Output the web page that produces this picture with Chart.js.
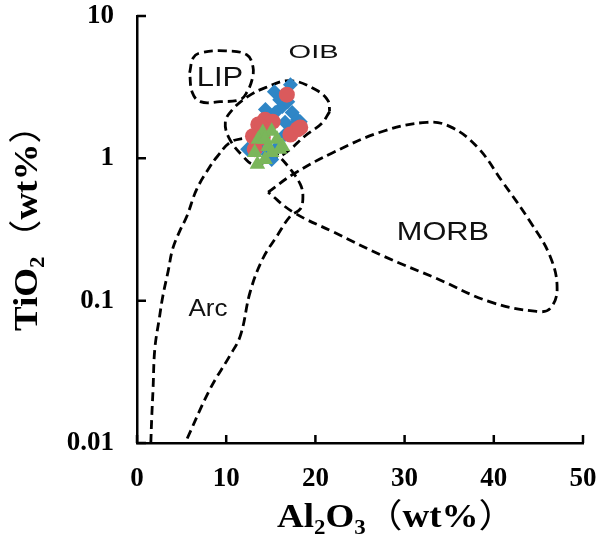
<!DOCTYPE html>
<html>
<head>
<meta charset="utf-8">
<script src="https://cdn.jsdelivr.net/npm/chart.js@4/dist/chart.umd.min.js"></script>
<style>
  html, body { margin: 0; padding: 0; background: #fff; }
  #wrap { width: 598px; height: 541px; }
</style>
</head>
<body>
<div id="wrap"><canvas id="c" width="598" height="541"></canvas></div>
<script>
// Axis ticks
const xTicks = [0, 10, 20, 30, 40, 50];
const yTicks = [0.01, 0.1, 1, 10];
const yTickLabels = ['0.01', '0.1', '1', '10'];

// Tectonic field outlines (Al2O3 wt%, TiO2 wt%)
const lipAl = [5.9, 6.3, 7.1, 9.9, 12.3, 13.0, 12.9, 12.3, 11.6, 9.3, 7.1, 6.2, 5.9];
const lipTi = [3.99, 5.08, 5.51, 5.69, 5.34, 4.40, 3.57, 2.90, 2.59, 2.50, 2.50, 2.90, 3.99];

const oibAl = [21.6, 20.7, 18.8, 17.2, 16.0, 14.4, 13.0, 11.9, 10.4, 9.9, 10.7, 12.4, 14.4, 17.2, 20.0, 21.4, 21.6];
const oibTi = [2.13, 1.76, 1.43, 1.16, 1.03, 0.94, 0.91, 1.03, 1.36, 1.79, 2.20, 2.71, 3.14, 3.51, 3.04, 2.55, 2.13];

const arcAl = [1.55, 1.65, 1.8, 2.0, 2.5, 2.9, 3.5, 4.0, 4.8, 5.6, 6.7, 8.2, 9.0, 10.4, 11.9, 13.2, 14.4, 15.7, 17.2, 18.3, 18.6, 18.3, 17.2, 15.7, 14.1, 12.7, 11.6, 10.4, 8.2, 5.4];
const arcTi = [0.01, 0.015, 0.024, 0.046, 0.075, 0.108, 0.162, 0.231, 0.309, 0.393, 0.607, 0.879, 1.03, 1.29, 1.38, 1.38, 1.29, 1.07, 0.838, 0.658, 0.542, 0.440, 0.393, 0.285, 0.197, 0.116, 0.057, 0.041, 0.024, 0.01];

const morbAl = [14.7, 17.5, 22.0, 27.6, 32.5, 35.1, 38.1, 41.0, 44.1, 46.3, 47.1, 46.3, 44.8, 39.6, 33.6, 27.6, 22.0, 17.5, 14.7];
const morbTi = [0.578, 0.773, 1.10, 1.55, 1.79, 1.67, 1.21, 0.680, 0.357, 0.206, 0.121, 0.088, 0.084, 0.098, 0.143, 0.206, 0.304, 0.419, 0.578];

// Sample groups
const setAAl = [15.4, 17.2, 16.3, 17.4, 15.5, 18.0, 16.6, 12.4, 15.1, 15.8, 17.5, 14.4, 13.5, 16.9, 14.0, 16.6, 18.3, 16.0, 13.6, 14.7];
const setATi = [2.94, 3.29, 2.31, 2.10, 2.10, 1.87, 1.79, 1.16, 0.98, 1.21, 1.67, 2.20, 1.25, 2.50, 1.36, 1.47, 1.81, 2.58, 1.16, 1.07];

const setBAl = [16.8, 14.35, 15.2, 13.6, 13.0, 18.0, 17.2, 13.2, 14.1, 14.0, 18.3];
const setBTi = [2.80, 1.87, 1.81, 1.73, 1.43, 1.60, 1.47, 1.16, 1.40, 1.65, 1.65];

const setCAl = [14.1, 15.1, 13.6, 15.7, 14.7, 16.3, 13.2, 15.1, 13.5, 14.35, 16.0, 14.35];
const setCTi = [1.52, 1.55, 1.36, 1.36, 1.21, 1.21, 1.10, 1.10, 0.91, 1.36, 1.16, 0.98];

// Field names
const fieldNames = ['LIP', 'OIB', 'MORB', 'Arc'];

const pts = (xs, ys) => xs.map((v, i) => ({ x: v, y: ys[i] }));

const outline = (xs, ys) => ({
  data: pts(xs, ys),
  showLine: true,
  borderColor: '#000',
  borderWidth: 2.8,
  borderDash: [9, 5],
  pointRadius: 0,
  pointHoverRadius: 0,
  tension: 0.4,
  fill: false,
  order: 3
});

const markers = (xs, ys, style, color, r, ord) => ({
  data: pts(xs, ys),
  showLine: false,
  pointStyle: style,
  pointRadius: r,
  pointHoverRadius: r,
  backgroundColor: color,
  borderColor: color,
  borderWidth: 0,
  order: ord
});

const serif = '"Liberation Serif", "Times New Roman", serif';

function fontOf(p, size) {
  if (p.sub) return 'bold ' + (size * 0.62) + 'px ' + serif;
  if (p.cjk) return size + 'px "Noto Sans CJK SC"';
  return 'bold ' + size + 'px ' + serif;
}

// draws text runs with subscripts, starting at (0,0) of the current frame, stretched by sx
function drawRich(ctx, parts, size, sx) {
  ctx.save();
  ctx.scale(sx, 1);
  ctx.textAlign = 'left';
  ctx.textBaseline = 'alphabetic';
  let xx = 0;
  parts.forEach(p => {
    ctx.font = fontOf(p, size);
    ctx.fillText(p.t, xx, p.sub ? size * 0.22 : 0);
    xx += ctx.measureText(p.t).width;
  });
  ctx.restore();
}

const xTitle = [{ t: 'Al' }, { t: '2', sub: true }, { t: 'O' }, { t: '3', sub: true }, { t: '（', cjk: true }, { t: 'wt%' }, { t: '）', cjk: true }];
const yTitle = [{ t: 'TiO' }, { t: '2', sub: true }, { t: '（', cjk: true }, { t: 'wt%' }, { t: '）', cjk: true }];

// label anchors in data units, plus font size and stretched ink width
const fieldLabelStyle = {
  LIP:  { x: 9.3,  y: 3.74,   size: 27, width: 43 },
  OIB:  { x: 19.8, y: 5.6,    size: 18, width: 50 },
  MORB: { x: 34.3, y: 0.309,  size: 25, width: 89 },
  Arc:  { x: 7.96, y: 0.0893, size: 24, width: 39 }
};

const overlay = {
  id: 'overlay',
  afterDraw(chart) {
    const { ctx, chartArea: a, scales: { x, y } } = chart;
    ctx.save();
    // inward tick marks
    ctx.strokeStyle = '#000';
    ctx.lineWidth = 2.5;
    ctx.beginPath();
    xTicks.forEach(v => {
      const px = x.getPixelForValue(v);
      ctx.moveTo(px, a.bottom);
      ctx.lineTo(px, a.bottom - 8);
    });
    yTicks.forEach(v => {
      const py = y.getPixelForValue(v);
      ctx.moveTo(a.left, py);
      ctx.lineTo(a.left + 9, py);
    });
    ctx.stroke();

    // field names
    ctx.fillStyle = '#111';
    fieldNames.forEach(name => {
      const s = fieldLabelStyle[name];
      const px = x.getPixelForValue(s.x);
      const py = y.getPixelForValue(s.y);
      ctx.save();
      ctx.font = s.size + 'px "Liberation Sans", Arial, sans-serif';
      const m = ctx.measureText(name);
      const ink = m.actualBoundingBoxLeft + m.actualBoundingBoxRight;
      const sx = s.width / ink;
      ctx.translate(px, py + s.size * 0.716 / 2);
      ctx.scale(sx, 1);
      ctx.textAlign = 'center';
      ctx.textBaseline = 'alphabetic';
      ctx.fillText(name, 0, 0);
      ctx.restore();
    });

    // axis titles
    ctx.fillStyle = '#000';
    ctx.save();
    ctx.translate(277, 527);
    drawRich(ctx, xTitle, 33, 1.12);
    ctx.restore();
    ctx.save();
    ctx.translate(37, 331);
    ctx.rotate(-Math.PI / 2);
    drawRich(ctx, yTitle, 33, 1.12);
    ctx.restore();
    ctx.restore();
  }
};

const noEdgePadding = s => {
  s.paddingTop = 0; s.paddingBottom = 0; s.paddingLeft = 0; s.paddingRight = 0;
};

new Chart(document.getElementById('c'), {
  type: 'scatter',
  data: {
    datasets: [
      outline(lipAl, lipTi),
      outline(oibAl, oibTi),
      outline(arcAl, arcTi),
      outline(morbAl, morbTi),
      markers(setAAl, setATi, 'rectRot', '#2F86C6', 7.5, 2),
      markers(setBAl, setBTi, 'circle', '#DA5A5C', 8, 1),
      markers(setCAl, setCTi, 'triangle', '#7AB65A', 9, 0)
    ]
  },
  options: {
    responsive: false,
    animation: false,
    events: [],
    layout: { padding: { top: 16, right: 15, left: 0, bottom: 0 } },
    plugins: { legend: { display: false }, tooltip: { enabled: false } },
    scales: {
      x: {
        type: 'linear',
        min: 0,
        max: 50,
        afterBuildTicks: s => { s.ticks = xTicks.map(v => ({ value: v })); },
        afterFit: s => { s.height = 98; noEdgePadding(s); },
        grid: { display: false, drawTicks: false },
        border: { display: true, color: '#000', width: 2.5 },
        ticks: {
          autoSkip: false, maxRotation: 0, color: '#000', padding: 20,
          font: { family: serif, size: 27, weight: 'bold' },
          callback: v => String(v)
        }
      },
      y: {
        type: 'logarithmic',
        min: 0.01,
        max: 10,
        afterBuildTicks: s => { s.ticks = yTicks.map(v => ({ value: v })); },
        afterFit: s => { s.width = 137; noEdgePadding(s); },
        grid: { display: false, drawTicks: false },
        border: { display: true, color: '#000', width: 2.5 },
        ticks: {
          autoSkip: false, color: '#000', padding: 23,
          font: { family: serif, size: 27, weight: 'bold' },
          callback: v => yTickLabels[yTicks.indexOf(v)]
        }
      }
    }
  },
  plugins: [overlay]
});
</script>
</body>
</html>
